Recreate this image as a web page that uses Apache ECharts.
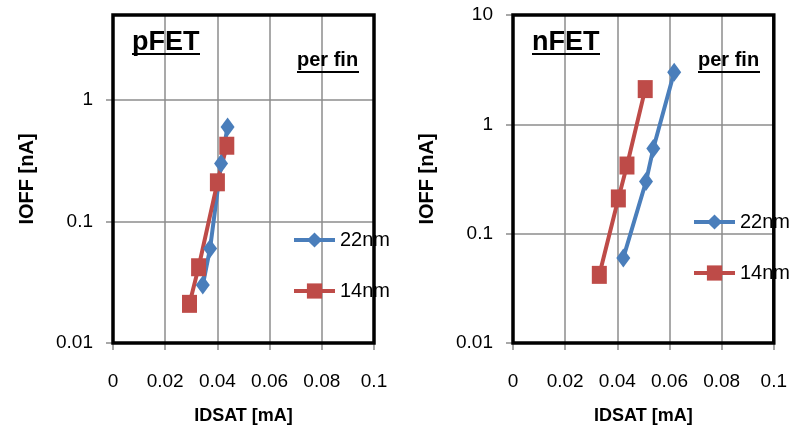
<!DOCTYPE html>
<html>
<head>
<meta charset="utf-8">
<script src="https://cdn.jsdelivr.net/npm/echarts@6/dist/echarts.min.js"></script>
<style>
html,body{margin:0;padding:0;background:#fff;}
#c{width:790px;height:436px;}
</style>
</head>
<body>
<div id="c"></div>
<script>
// ---- data ----
var seriesNames = ['22nm', '14nm'];
var panelTitles = ['pFET', 'nFET'];
var noteText = 'per fin';
var xName = 'IDSAT [mA]';
var yName = 'IOFF [nA]';
var xTicks = [0, 0.02, 0.04, 0.06, 0.08, 0.1];
var yTicksP = [0.01, 0.1, 1];
var yTicksN = [0.01, 0.1, 1, 10];
var yMaxP = 5;
var yMaxN = 10;

var idsatP22 = [0.0344, 0.0372, 0.0414, 0.0439];
var ioffP22  = [0.03, 0.06, 0.3, 0.6];
var idsatP14 = [0.0293, 0.0328, 0.0400, 0.0436];
var ioffP14  = [0.021, 0.042, 0.21, 0.42];
var idsatN22 = [0.0423, 0.0510, 0.0538, 0.0618];
var ioffN22  = [0.06, 0.3, 0.6, 3.0];
var idsatN14 = [0.0331, 0.0404, 0.0437, 0.0507];
var ioffN14  = [0.042, 0.21, 0.42, 2.1];

function pairs(xs, ys) { return xs.map(function (x, i) { return [x, ys[i]]; }); }

var FONT = '"Liberation Sans", Arial, sans-serif';
var BLUE = '#4A7EBB';
var RED = '#BE4B48';
var GRIDC = '#8C8C8C';

function xAxisOpt(gi) {
  return {
    type: 'value', gridIndex: gi, min: xTicks[0], max: xTicks[xTicks.length - 1], interval: 0.02,
    name: xName, nameLocation: 'middle', nameGap: 64,
    nameTextStyle: { fontFamily: FONT, fontWeight: 'bold', fontSize: 18, color: '#000' },
    axisLine: { show: true, onZero: false, lineStyle: { color: GRIDC, width: 1.5 } },
    axisTick: { show: true, length: 7, lineStyle: { color: GRIDC, width: 1.5 } },
    splitLine: { show: true, lineStyle: { color: GRIDC, width: 1.5 } },
    axisLabel: { margin: 29, fontFamily: FONT, fontSize: 19, color: '#000',
      formatter: function (v) { return String(+v.toFixed(3)); } }
  };
}
function yAxisOpt(gi, ymax) {
  return {
    type: 'log', logBase: 10, gridIndex: gi, min: 0.01, max: ymax,
    name: yName, nameLocation: 'middle', nameGap: 76,
    nameTextStyle: { fontFamily: FONT, fontWeight: 'bold', fontSize: 20, color: '#000' },
    axisLine: { show: true, lineStyle: { color: GRIDC, width: 1.5 } },
    axisTick: { show: true, length: 7, lineStyle: { color: GRIDC, width: 1.5 } },
    splitLine: { show: true, lineStyle: { color: GRIDC, width: 1.5 } },
    minorTick: { show: false }, minorSplitLine: { show: false },
    axisLabel: { margin: 20, fontFamily: FONT, fontSize: 19, color: '#000',
      showMaxLabel: ymax === 10,
      formatter: function (v) { return String(+(+v).toPrecision(3)); } }
  };
}
function lineSeries(name, color, symbol, size, gi, data) {
  return {
    name: name, type: 'line', xAxisIndex: gi, yAxisIndex: gi, data: data,
    symbol: symbol, symbolSize: size, showSymbol: true,
    lineStyle: { color: color, width: 4 }, itemStyle: { color: color },
    emphasis: { disabled: true }, z: 2
  };
}
function legendOpt(left, top) {
  return {
    data: seriesNames, orient: 'vertical', left: left, top: top, padding: 0,
    itemWidth: 41, itemHeight: 19, itemGap: 31, z: 1,
    lineStyle: { width: 4 },
    textStyle: { fontFamily: FONT, fontSize: 20, color: '#000' },
    selectedMode: false
  };
}
function txt(x, y, s, font) {
  return { type: 'text', left: x, top: y, z: 20, style: { text: s, font: font, fill: '#000' } };
}
function uline(x1, x2, y) {
  return { type: 'line', z: 20, shape: { x1: x1, y1: y, x2: x2, y2: y }, style: { stroke: '#000', lineWidth: 2 } };
}

var chart = echarts.init(document.getElementById('c'), null, { renderer: 'canvas' });
chart.setOption({
  animation: false,
  backgroundColor: '#fff',
  grid: [
    { left: 113, top: 15, right: 416, bottom: 93, show: true, borderColor: '#000', borderWidth: 3.5, backgroundColor: 'transparent', z: 5 },
    { left: 513, top: 15, right: 15, bottom: 93, show: true, borderColor: '#000', borderWidth: 3.5, backgroundColor: 'transparent', z: 5 }
  ],
  xAxis: [xAxisOpt(0), xAxisOpt(1)],
  yAxis: [yAxisOpt(0, yMaxP), yAxisOpt(1, yMaxN)],
  legend: [legendOpt(292, 230), legendOpt(692, 212)],
  series: [
    lineSeries(seriesNames[0], BLUE, 'diamond', [14, 19], 0, pairs(idsatP22, ioffP22)),
    lineSeries(seriesNames[1], RED, 'rect', [15, 18], 0, pairs(idsatP14, ioffP14)),
    lineSeries(seriesNames[0], BLUE, 'diamond', [14, 19], 1, pairs(idsatN22, ioffN22)),
    lineSeries(seriesNames[1], RED, 'rect', [15, 18], 1, pairs(idsatN14, ioffN14))
  ],
  graphic: [
    txt(132, 29, panelTitles[0], 'bold 27px ' + FONT),
    uline(132, 200, 54),
    txt(297, 50, noteText, 'bold 20px ' + FONT),
    uline(297, 359, 72),
    txt(532, 29, panelTitles[1], 'bold 27px ' + FONT),
    uline(532, 600, 54),
    txt(698, 50, noteText, 'bold 20px ' + FONT),
    uline(698, 760, 72)
  ]
});
</script>
</body>
</html>
